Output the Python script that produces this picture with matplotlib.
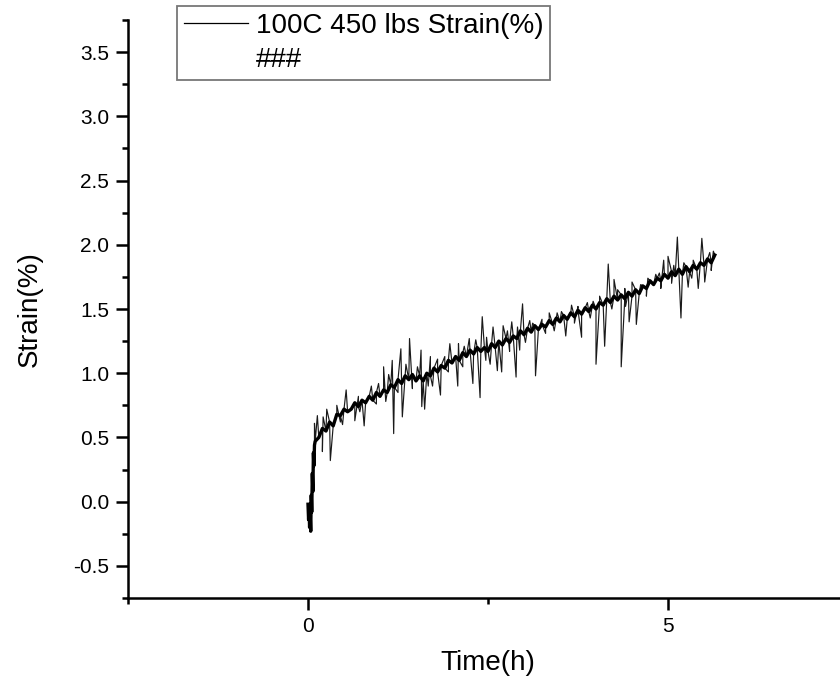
import numpy as np
import matplotlib
matplotlib.use("Agg")
import matplotlib.pyplot as plt
from matplotlib.lines import Line2D
from matplotlib.ticker import MultipleLocator, FormatStrFormatter, FixedLocator

plt.rcParams['font.family'] = ['Liberation Sans', 'DejaVu Sans']

# ---- data ----
# initial steep loading segment
start_time = [0.000, 0.008, 0.015, 0.022, 0.030, 0.038, 0.045, 0.052, 0.060, 0.068, 0.075, 0.082, 0.090]
start_strain = [-0.02, -0.14, -0.06, -0.20, -0.10, -0.23, 0.05, -0.08, 0.22, 0.08, 0.38, 0.28, 0.44]

# main noisy creep trace, sampled every 0.05 h from 0.10 h to 5.65 h
trace_t0 = 0.10
trace_dt = 0.05
trace_strain = [
    0.47, 0.50, 0.57, 0.55, 0.62, 0.59, 0.68, 0.67, 0.72, 0.70,
    0.72, 0.77, 0.74, 0.79, 0.77, 0.82, 0.79, 0.85, 0.82, 0.87,
    0.85, 0.91, 0.89, 0.95, 0.92, 0.98, 0.95, 0.99, 0.94, 0.98,
    0.94, 1.00, 0.98, 1.04, 1.01, 1.06, 1.04, 1.10, 1.08, 1.13,
    1.10, 1.16, 1.13, 1.18, 1.15, 1.20, 1.17, 1.20, 1.17, 1.23,
    1.20, 1.25, 1.22, 1.27, 1.24, 1.29, 1.27, 1.33, 1.30, 1.35,
    1.32, 1.37, 1.34, 1.38, 1.36, 1.41, 1.38, 1.43, 1.40, 1.45,
    1.42, 1.47, 1.44, 1.49, 1.46, 1.51, 1.48, 1.53, 1.50, 1.55,
    1.53, 1.58, 1.55, 1.60, 1.57, 1.61, 1.58, 1.63, 1.60, 1.65,
    1.62, 1.68, 1.66, 1.72, 1.69, 1.74, 1.72, 1.77, 1.74, 1.79,
    1.76, 1.81, 1.77, 1.83, 1.79, 1.84, 1.81, 1.86, 1.84, 1.89,
    1.86, 1.92,
]

# large isolated spikes (upward and downward)
spike_time = [
    0.09, 0.13, 0.26, 0.53, 0.88, 1.05, 1.17, 1.29, 1.41, 1.57, 1.70, 1.97,
    2.09, 2.24, 2.42, 2.57, 2.71, 2.83, 2.98, 3.08, 3.35, 3.46, 3.66, 3.96,
    4.17, 4.25, 4.50, 4.83, 4.94, 5.00, 5.13, 5.47, 5.63,
    0.20, 0.31, 0.48, 0.65, 0.78, 1.19, 1.31, 1.58, 1.62, 1.73, 1.84, 2.08,
    2.29, 2.39, 2.53, 2.63, 2.69, 2.89, 2.94, 3.16, 3.58, 3.80, 4.00, 4.12,
    4.35, 4.46, 4.56, 5.18, 5.28, 5.42, 5.51,
]
spike_strain = [
    0.61, 0.67, 0.72, 0.87, 0.90, 1.05, 1.10, 1.19, 1.27, 1.18, 1.13, 1.23,
    1.23, 1.27, 1.44, 1.36, 1.37, 1.40, 1.54, 1.41, 1.47, 1.47, 1.53, 1.56,
    1.85, 1.73, 1.71, 1.77, 1.88, 1.91, 2.06, 2.05, 1.95,
    0.39, 0.32, 0.60, 0.63, 0.59, 0.53, 0.66, 0.74, 0.72, 0.90, 0.83, 0.90,
    0.92, 0.81, 1.07, 1.02, 1.01, 0.97, 1.18, 0.98, 1.29, 1.28, 1.07, 1.21,
    1.05, 1.40, 1.38, 1.43, 1.67, 1.66, 1.71,
]

# smaller spikes along the band
small_spike_time = [
    0.21, 0.40, 0.70, 0.98, 1.12, 1.36, 1.52, 1.80, 1.90, 2.17, 2.33, 2.48,
    2.77, 2.91, 3.12, 3.25, 3.52, 3.75, 3.88, 4.05, 4.30, 4.40, 4.62, 4.72,
    4.88, 5.08, 5.22, 5.35, 5.58,
    0.45, 0.72, 0.95, 1.08, 1.25, 1.45, 1.67, 1.95, 2.15, 2.47, 2.80, 3.02,
    3.30, 3.42, 3.70, 3.92, 4.22, 4.41, 4.70, 4.90, 5.05, 5.33, 5.60,
]
small_spike_strain = [
    0.66, 0.75, 0.82, 0.92, 0.99, 1.07, 1.05, 1.11, 1.13, 1.21, 1.26, 1.28,
    1.33, 1.36, 1.39, 1.42, 1.48, 1.52, 1.55, 1.60, 1.65, 1.66, 1.69, 1.74,
    1.78, 1.84, 1.86, 1.88, 1.94,
    0.62, 0.70, 0.76, 0.78, 0.85, 0.88, 0.90, 1.01, 1.05, 1.10, 1.17, 1.24,
    1.31, 1.33, 1.39, 1.43, 1.50, 1.52, 1.60, 1.66, 1.70, 1.74, 1.80,
]

series_label = "100C 450 lbs Strain(%)"
extra_label = "###"
x_label = "Time(h)"
y_label = "Strain(%)"

# ---- assemble series ----
trace_time = trace_t0 + trace_dt * np.arange(len(trace_strain))
band_t = np.concatenate([start_time, trace_time])
band_v = np.concatenate([start_strain, trace_strain])

t_all = np.concatenate([band_t, spike_time, small_spike_time])
v_all = np.concatenate([band_v, spike_strain, small_spike_strain])
order = np.argsort(t_all, kind="stable")
t_all = t_all[order]
v_all = v_all[order]

# ---- figure ----
W, H = 840, 689
fig = plt.figure(figsize=(W / 100, H / 100), dpi=100)
ax_left, ax_right, ax_top, ax_bottom = 128, 848, 20, 598
ax = fig.add_axes([ax_left / W, 1 - ax_bottom / H,
                   (ax_right - ax_left) / W, (ax_bottom - ax_top) / H])

# full record including spikes (thin)
line, = ax.plot(t_all, v_all, color="#1a1a1a", lw=0.85)
# dense core of the noisy trace
ax.plot(band_t, band_v, color="black", lw=2.4, solid_joinstyle='round')

ax.set_xlim(-2.5, 7.5)
ax.set_ylim(-0.75, 3.75)
ax.xaxis.set_major_locator(FixedLocator([0, 5]))
ax.xaxis.set_minor_locator(FixedLocator([-2.5, 2.5]))
ax.yaxis.set_major_locator(MultipleLocator(0.5))
ax.yaxis.set_minor_locator(MultipleLocator(0.25))
ax.yaxis.set_major_formatter(FormatStrFormatter('%.1f'))
ax.xaxis.set_major_formatter(FormatStrFormatter('%d'))

for s in ['top', 'right']:
    ax.spines[s].set_visible(False)
for s in ['left', 'bottom']:
    ax.spines[s].set_linewidth(1.8)

ax.tick_params(which='major', direction='out', length=8.5, width=1.8,
               labelsize=15, pad=5, colors='black')
ax.tick_params(which='minor', direction='out', length=4.5, width=1.8)

ax.set_xlabel(x_label, fontsize=20, labelpad=10)
ax.set_ylabel(y_label, fontsize=20, labelpad=22)

handles = [Line2D([], [], color='black', lw=0.9), Line2D([], [], linestyle='none')]
leg = fig.legend(handles, [series_label, extra_label], loc='upper left',
                 bbox_to_anchor=(177 / W, 1 - 6 / H), fontsize=20,
                 frameon=True, fancybox=False, handlelength=2.3,
                 handletextpad=0.28, borderpad=0.25, labelspacing=0.28,
                 borderaxespad=0.0)
leg.get_frame().set_edgecolor('#555555')
leg.get_frame().set_linewidth(1.3)

fig.savefig("out.png", dpi=100)
